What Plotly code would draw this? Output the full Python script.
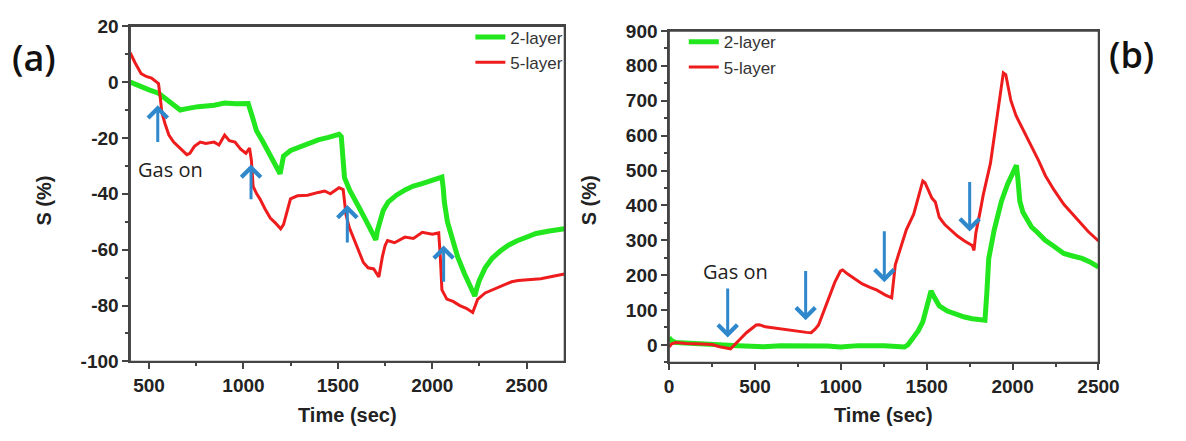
import plotly.graph_objects as go

# ---------------- Panel (a) data ----------------
a_green_x = [400, 450, 500, 550, 600, 640, 665, 700, 760, 845, 900, 960, 1025, 1045, 1069, 1100, 1125, 1160, 1194,
             1205, 1212, 1250, 1304, 1350, 1396, 1450, 1506, 1518, 1528, 1535, 1563, 1590, 1618, 1660, 1701,
             1710, 1720, 1740, 1766, 1810, 1858, 1900, 1950, 2000, 2051, 2058, 2064, 2080, 2097, 2134, 2170,
             2208, 2225, 2235, 2249, 2280, 2318, 2360, 2403, 2450, 2489, 2550, 2620, 2700]
a_green_y = [0, -1.5, -2.8, -4, -6.5, -9, -10, -9.5, -8.8, -8.3, -7.5, -7.8, -7.7, -12, -17.4, -21, -24.3, -28.5, -32.8,
             -29, -26.5, -24.5, -23, -21.8, -20.7, -19.8, -18.7, -19.5, -27, -34.2, -38.8, -42.5, -45.6, -51, -56.5,
             -53, -50, -46, -43, -40.5, -38.5, -37.2, -36.3, -35, -34, -38, -43, -50, -54.5, -62.5, -68.5,
             -73.9, -76.6, -74, -71, -66.5, -63, -60.5, -58.4, -56.8, -55.6, -54.2, -53.3, -52.5]

a_red_x = [400, 425, 458, 485, 513, 540, 550, 560, 568, 585, 605, 630, 661, 700, 716, 740, 771, 800, 845, 870, 900,
           925, 955, 985, 1013, 1032, 1042, 1051, 1070, 1087, 1115, 1142, 1170, 1197, 1212, 1230, 1249, 1286, 1340,
           1396, 1430, 1460, 1506, 1528, 1535, 1543, 1560, 1580, 1605, 1635, 1660, 1690, 1717, 1725, 1736, 1750,
           1763, 1800, 1855, 1900, 1947, 2000, 2034, 2042, 2051, 2077, 2110, 2146, 2180, 2214, 2228, 2240, 2280,
           2318, 2380, 2420, 2455, 2500, 2575, 2640, 2700]
a_red_y = [10.5, 7, 3, 2, 1.4, 0, -0.5, -6, -11, -15, -19, -21.5, -23.6, -26, -25.5, -23, -21.5, -22, -21.5, -22.5, -19,
           -21, -21.5, -24, -25.5, -23.6, -28, -37.3, -40, -41.8, -45.5, -48.7, -50.5, -52.5, -51, -46, -41.8, -40.7, -40.5,
           -39.5, -39, -40, -37.8, -38.5, -44, -47.5, -52, -55.5, -60, -64.6, -66.5, -66.9, -69.8, -66, -62.4, -58.5,
           -56.7, -57.5, -55.5, -56, -53.8, -54.5, -54, -62, -74.4, -77.7, -78.5, -80, -81, -82.5, -80, -77.8, -75.5,
           -74.4, -72.5, -71.5, -71, -70.8, -70.4, -69.5, -68.7]

# arrows (a): x, tail y, tip y
a_arrow_x = [546, 1040, 1550, 2060]
a_arrow_tail = [-22, -42.5, -58, -72]
a_arrow_tip = [-8.3, -29.5, -44, -58.5]

# ---------------- Panel (b) data ----------------
b_red_x = [0, 15, 40, 100, 188, 250, 294, 340, 358, 400, 450, 507, 525, 560, 614, 680, 742, 800, 827, 850, 870, 900,
           934, 965, 998, 1010, 1040, 1080, 1125, 1170, 1210, 1260, 1296, 1317, 1350, 1381, 1424, 1450, 1477, 1490,
           1530, 1550, 1573, 1605, 1637, 1679, 1720, 1765, 1775, 1786, 1810, 1829, 1871, 1910, 1946, 1960, 1990,
           2020, 2074, 2106, 2150, 2191, 2240, 2298, 2340, 2383, 2440, 2500]
b_red_y = [-6, 3, 7, 4, 3, 1, -5, -8, -11, 10, 35, 57, 58, 52, 48, 43, 39, 36, 35, 45, 57, 95,
           139, 180, 212, 215, 203, 190, 175, 165, 157, 143, 135, 230, 285, 330, 375, 420, 470, 465,
           421, 410, 366, 345, 330, 312, 298, 285, 271, 321, 380, 430, 521, 650, 780, 775, 700,
           657, 603, 575, 530, 485, 445, 403, 380, 357, 325, 298]

b_green_x = [0, 15, 40, 100, 200, 300, 400, 480, 550, 650, 827, 920, 998, 1100, 1253, 1340, 1370, 1390, 1424, 1450,
             1477, 1500, 1525, 1540, 1573, 1620, 1679, 1720, 1765, 1800, 1839, 1850, 1861, 1893, 1935, 1970, 2010,
             2022, 2030, 2042, 2060, 2084, 2110, 2148, 2190, 2234, 2298, 2350, 2404, 2450, 2500]
b_green_y = [21, 12, 7, 5, 3, 1, -2, -4, -5, -2, -2, -3, -6, -2, -2, -3, -6, 0, 21, 40,
             66, 110, 155, 140, 112, 97, 85, 80, 75, 74, 71, 150, 248, 330, 412, 460, 505,
             515, 480, 412, 380, 357, 338, 321, 300, 285, 262, 255, 248, 238, 223]

b_arrow_x = [341, 795, 1253, 1750]
b_arrow_tail = [166, 216, 330, 471]
b_arrow_tip = [21, 71, 180, 325]

series_names = ["2-layer", "5-layer"]
x_ticks_a = [500, 1000, 1500, 2000, 2500]
y_ticks_a = [-100, -80, -60, -40, -20, 0, 20]
x_ticks_b = [0, 500, 1000, 1500, 2000, 2500]
y_ticks_b = [0, 100, 200, 300, 400, 500, 600, 700, 800, 900]

GREEN = "#22e61e"
RED = "#ee1c1c"
BLUE = "#2f88cc"
AXC = "#444444"
W, H = 1186, 441


def labels(vals):
    return [str(v) for v in vals]  # ASCII hyphen for negatives, as in the original


fig = go.Figure()
fig.add_trace(go.Scatter(x=a_green_x, y=a_green_y, mode="lines", name=series_names[0],
                         line=dict(color=GREEN, width=5), xaxis="x", yaxis="y", legend="legend"))
fig.add_trace(go.Scatter(x=a_red_x, y=a_red_y, mode="lines", name=series_names[1],
                         line=dict(color=RED, width=3), xaxis="x", yaxis="y", legend="legend"))
fig.add_trace(go.Scatter(x=b_green_x, y=b_green_y, mode="lines", name=series_names[0],
                         line=dict(color=GREEN, width=5), xaxis="x2", yaxis="y2", legend="legend2"))
fig.add_trace(go.Scatter(x=b_red_x, y=b_red_y, mode="lines", name=series_names[1],
                         line=dict(color=RED, width=3), xaxis="x2", yaxis="y2", legend="legend2"))

tickfont = dict(family="Liberation Sans, Arial", size=19, color="#222", weight="bold")
common = dict(showline=True, linecolor=AXC, linewidth=1.5, mirror=True, ticks="outside", ticklen=6,
              tickwidth=1.5, tickcolor=AXC, showgrid=False, zeroline=False, tickfont=tickfont)

legfont = dict(family="Liberation Sans, Arial", size=17, color="#333")
fig.update_layout(
    width=W, height=H, autosize=False,
    margin=dict(l=0, r=0, t=0, b=0),
    paper_bgcolor="white", plot_bgcolor="white",
    xaxis=dict(domain=[128 / W, 572 / W], anchor="y", range=[400, 2700], tickvals=x_ticks_a,
               ticktext=labels(x_ticks_a),
               minor=dict(ticks="outside", ticklen=3, tickcolor=AXC, tickvals=[750, 1250, 1750, 2250]), **common),
    yaxis=dict(domain=[1 - 369 / H, 1 - 17 / H], anchor="x", range=[-100, 20], tickvals=y_ticks_a,
               ticktext=labels(y_ticks_a),
               minor=dict(ticks="outside", ticklen=3, tickcolor=AXC, tickvals=[-90, -70, -50, -30, -10, 10]), **common),
    xaxis2=dict(domain=[679 / W, 1118 / W], anchor="y2", range=[0, 2500], tickvals=x_ticks_b,
                ticktext=labels(x_ticks_b),
                minor=dict(ticks="outside", ticklen=3, tickcolor=AXC, tickvals=[250, 750, 1250, 1750, 2250]), **common),
    yaxis2=dict(domain=[1 - 370 / H, 1 - 22 / H], anchor="x2", range=[-50, 900], tickvals=y_ticks_b,
                ticktext=labels(y_ticks_b),
                minor=dict(ticks="outside", ticklen=3, tickcolor=AXC,
                           tickvals=[-50, 50, 150, 250, 350, 450, 550, 650, 750, 850]), **common),
    legend=dict(x=576 / W, xanchor="right", y=1 - 10 / H, yanchor="top", bgcolor="rgba(0,0,0,0)",
                font=legfont, tracegroupgap=0),
    legend2=dict(x=694 / W, xanchor="left", y=1 - 15 / H, yanchor="top", bgcolor="rgba(0,0,0,0)",
                 font=legfont, tracegroupgap=0),
    showlegend=True,
)

# plot frames (top / right borders)
shapes = []
for xr, yr in (("x domain", "y domain"), ("x2 domain", "y2 domain")):
    shapes.append(dict(type="rect", xref=xr, yref=yr, x0=0, x1=1, y0=0, y1=1,
                       line=dict(color=AXC, width=1.5), fillcolor="rgba(0,0,0,0)", layer="above"))
fig.update_layout(shapes=shapes)

ann = []
for xv, t0, t1 in zip(a_arrow_x, a_arrow_tail, a_arrow_tip):
    ann.append(dict(x=xv, y=t1, ax=xv, ay=t0, xref="x", yref="y", axref="x", ayref="y", text="",
                    showarrow=True, arrowhead=4, arrowsize=1.25, arrowwidth=3, arrowcolor=BLUE))
for xv, t0, t1 in zip(b_arrow_x, b_arrow_tail, b_arrow_tip):
    ann.append(dict(x=xv, y=t1, ax=xv, ay=t0, xref="x2", yref="y2", axref="x2", ayref="y2", text="",
                    showarrow=True, arrowhead=4, arrowsize=1.25, arrowwidth=3, arrowcolor=BLUE))

txtfont = dict(family="Open Sans, Lato", size=20, color="#222")
ann.append(dict(x=611, y=-31.2, xref="x", yref="y", text="Gas on", showarrow=False, font=txtfont,
                xanchor="center", yanchor="middle"))
ann.append(dict(x=387, y=210, xref="x2", yref="y2", text="Gas on", showarrow=False, font=txtfont,
                xanchor="center", yanchor="middle"))

labfont = dict(family="Open Sans, Lato", size=36, color="#111", weight=600)
ann.append(dict(x=30 / W, y=1 - 50 / H, xref="paper", yref="paper", text="(a)", showarrow=False, font=labfont,
                xanchor="center", yanchor="middle"))
ann.append(dict(x=1152 / W, y=1 - 47 / H, xref="paper", yref="paper", text="(b)", showarrow=False, font=labfont,
                xanchor="center", yanchor="middle"))

titfont = dict(family="Liberation Sans, Arial", size=20, color="#222", weight="bold")
for xc, yc, txt, ang in ((350, 425, "Time (sec)", 0), (898, 425, "Time (sec)", 0),
                         (40, 200, "S (%)", -90), (598, 200, "S (%)", -90)):
    ann.append(dict(x=xc / W, y=1 - yc / H, xref="paper", yref="paper", text=txt, showarrow=False,
                    textangle=ang, font=titfont, xanchor="center", yanchor="middle"))
fig.update_layout(annotations=ann)

fig.write_html("out.html", config={"displayModeBar": False},
               post_script="document.body.style.margin='0';")
